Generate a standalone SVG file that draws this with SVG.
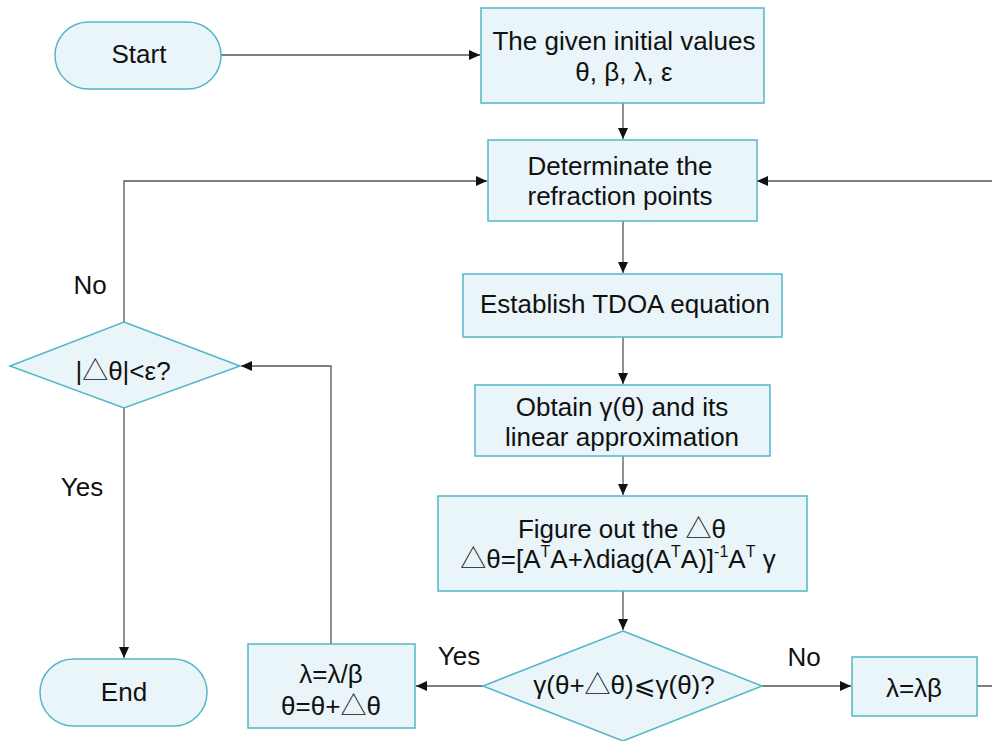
<svg xmlns="http://www.w3.org/2000/svg" width="992" height="741" viewBox="0 0 992 741">
<defs>
<style>
.n{fill:#eaf5f9;stroke:#52b6c9;stroke-width:1.5}
.t{font-family:"Liberation Sans",Arial,"DejaVu Sans",sans-serif;font-size:26px;fill:#111;text-anchor:middle}
.l{font-family:"Liberation Sans",Arial,sans-serif;font-size:26px;fill:#111;text-anchor:middle}
.c{fill:none;stroke:#555;stroke-width:1.3}
.sup{font-size:16px}
.tri{font-family:"Noto Sans CJK SC","DejaVu Sans",sans-serif;font-weight:300}
</style>
<marker id="a" markerUnits="userSpaceOnUse" markerWidth="12" markerHeight="10" refX="11" refY="5" orient="auto">
<path d="M0,0 L11,5 L0,10 Z" fill="#111"/>
</marker>
</defs>
<rect width="992" height="741" fill="#fff"/>
<g id="connectors">
<path class="c" d="M221,55 H480" marker-end="url(#a)"/>
<path class="c" d="M623,103 V139" marker-end="url(#a)"/>
<path class="c" d="M623,221 V273" marker-end="url(#a)"/>
<path class="c" d="M623,337 V384" marker-end="url(#a)"/>
<path class="c" d="M623,456 V495" marker-end="url(#a)"/>
<path class="c" d="M623,591 V630" marker-end="url(#a)"/>
<path class="c" d="M762,686 H851" marker-end="url(#a)"/>
<path class="c" d="M977,686 H998 V181 H757" marker-end="url(#a)"/>
<path class="c" d="M483,686 H416" marker-end="url(#a)"/>
<path class="c" d="M331,644 V366 H241" marker-end="url(#a)"/>
<path class="c" d="M124,322 V181 H487" marker-end="url(#a)"/>
<path class="c" d="M124,408 V658" marker-end="url(#a)"/>
<text class="l" x="90" y="294">No</text>
<text class="l" x="82" y="496">Yes</text>
<text class="l" x="459" y="665">Yes</text>
<text class="l" x="804" y="666">No</text>
</g>
<g id="start">
<rect class="n" x="55" y="22" width="166" height="67" rx="33.5"/>
<text class="t" x="139" y="63">Start</text>
</g>
<g id="init">
<rect class="n" x="481" y="8" width="283" height="95"/>
<text class="t" x="624" y="50">The given initial values</text>
<text class="t" x="624" y="81">θ, β, λ, ε</text>
</g>
<g id="refraction">
<rect class="n" x="488" y="140" width="269" height="81"/>
<text class="t" x="620" y="175">Determinate the</text>
<text class="t" x="620" y="205">refraction points</text>
</g>
<g id="tdoa">
<rect class="n" x="463" y="274" width="319" height="63"/>
<text class="t" x="625" y="313">Establish TDOA equation</text>
</g>
<g id="gamma">
<rect class="n" x="475" y="385" width="295" height="71"/>
<text class="t" x="622" y="416">Obtain γ(θ) and its</text>
<text class="t" x="622" y="446">linear approximation</text>
</g>
<g id="delta">
<rect class="n" x="438" y="496" width="369" height="95"/>
<text class="t" x="622" y="538">Figure out the <tspan class="tri">△</tspan>θ</text>
<text class="t" x="618" y="568"><tspan class="tri">△</tspan>θ=[A<tspan class="sup" dy="-11">T</tspan><tspan dy="11">A+λdiag(A</tspan><tspan class="sup" dy="-11">T</tspan><tspan dy="11">A)]</tspan><tspan class="sup" dy="-11">-1</tspan><tspan dy="11">A</tspan><tspan class="sup" dy="-11">T</tspan><tspan dy="11"> γ</tspan></text>
</g>
<g id="check">
<polygon class="n" points="623,631 762,686 623,741 483,686"/>
<text class="t" x="624" y="694">γ(θ+<tspan class="tri">△</tspan>θ)⩽γ(θ)?</text>
</g>
<g id="increase">
<rect class="n" x="852" y="657" width="125" height="59"/>
<text class="t" x="914" y="697">λ=λβ</text>
</g>
<g id="update">
<rect class="n" x="248" y="644" width="167" height="84"/>
<text class="t" x="331" y="683">λ=λ/β</text>
<text class="t" x="331" y="715">θ=θ+<tspan class="tri">△</tspan>θ</text>
</g>
<g id="converge">
<polygon class="n" points="124,322 240,366 124,408 10,366"/>
<text class="t" x="123" y="380">|<tspan class="tri">△</tspan>θ|&lt;ε?</text>
</g>
<g id="end">
<rect class="n" x="40" y="659" width="167" height="67" rx="33.5"/>
<text class="t" x="124" y="701">End</text>
</g>
</svg>
